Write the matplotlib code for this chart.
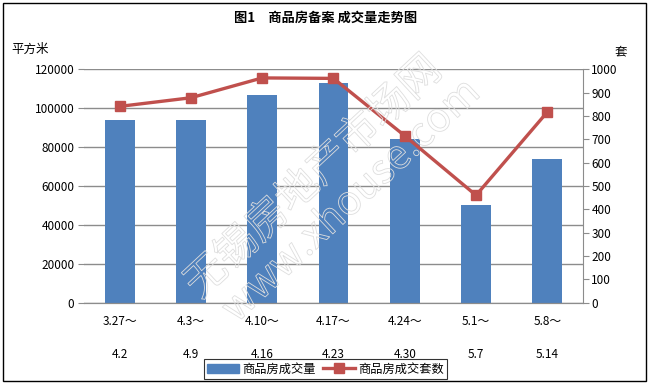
import matplotlib
matplotlib.use("Agg")
import matplotlib.pyplot as plt
import matplotlib.patheffects as pe
from matplotlib.patches import Rectangle
from matplotlib.lines import Line2D
from matplotlib.patches import Patch

plt.rcParams['font.family'] = ['Noto Sans CJK SC', 'DejaVu Sans']

weeks_start = ["3.27～", "4.3～", "4.10～", "4.17～", "4.24～", "5.1～", "5.8～"]
weeks_end = ["4.2", "4.9", "4.16", "4.23", "4.30", "5.7", "5.14"]
area = [93900, 93900, 106800, 112900, 84100, 50200, 73800]   # 平方米
units = [841, 878, 963, 961, 715, 460, 817]                  # 套

bar_color = "#4F81BD"
line_color = "#C0504D"
grid_color = "#8C8C8C"

fig = plt.figure(figsize=(6.51, 3.86), dpi=100)
ax = fig.add_axes([0.129, 0.216, 0.7665, 0.6045])
ax2 = ax.twinx()

x = list(range(len(area)))
ax.bar(x, area, width=0.42, color=bar_color, zorder=2)
ax2.plot(x, units, color=line_color, lw=2.4, marker="s", ms=7,
         markeredgecolor=line_color, zorder=3)

ax.set_xlim(-0.5, len(area) - 0.5)
ax.set_ylim(0, 120000)
ax.set_yticks(range(0, 120001, 20000))
ax2.set_ylim(0, 1000)
ax2.set_yticks(range(0, 1001, 100))

ax.set_axisbelow(True)
ax.yaxis.grid(True, color=grid_color, lw=1)
ax.set_xticks(x)
ax.set_xticklabels([f"{a}\n\n{b}" for a, b in zip(weeks_start, weeks_end)],
                   linespacing=1.32)
ax.tick_params(axis="x", length=0, pad=9, labelsize=8.5)
ax.tick_params(axis="y", length=4, color=grid_color, labelsize=8.5, pad=3)
ax2.tick_params(axis="y", length=4, color=grid_color, labelsize=8.5, pad=2)

for a in (ax, ax2):
    for s in ("top", "left"):
        a.spines[s].set_visible(False)
    a.spines["bottom"].set_color(grid_color)
ax2.spines["right"].set_color(grid_color)
ax.spines["right"].set_visible(False)

fig.text(0.5, 0.953, "图1　商品房备案 成交量走势图", ha="center", va="center",
         fontsize=9.5, fontweight="bold")
fig.text(0.018, 0.872, "平方米", ha="left", va="center", fontsize=9)
fig.text(0.944, 0.866, "套", ha="left", va="center", fontsize=9)

# watermark
wm = dict(rotation=43, ha="center", va="center", color="none", zorder=5,
          transform=fig.transFigure,
          path_effects=[pe.Stroke(linewidth=0.6, foreground="#dedede")])
fig.text(0.482, 0.54, "无锡房地产市场网", fontsize=30, **wm)
fig.text(0.54, 0.48, "www.xhouse.com", fontsize=29, **wm)

handles = [Patch(color=bar_color),
           Line2D([], [], color=line_color, lw=2.4, marker="s", ms=7)]
leg = fig.legend(handles, ["商品房成交量", "商品房成交套数"], loc="center",
                 bbox_to_anchor=(0.5, 0.044), ncol=2, fontsize=8.8, frameon=True,
                 fancybox=False, edgecolor="black", handlelength=2.6,
                 handletextpad=0.3, columnspacing=0.6, borderpad=0.25,
                 borderaxespad=0)
leg.get_frame().set_linewidth(0.8)

fig.patches.append(Rectangle((0.004, 0.013), 0.988, 0.978, transform=fig.transFigure,
                             fill=False, edgecolor="black", lw=1))

fig.savefig("out.png", dpi=100)
